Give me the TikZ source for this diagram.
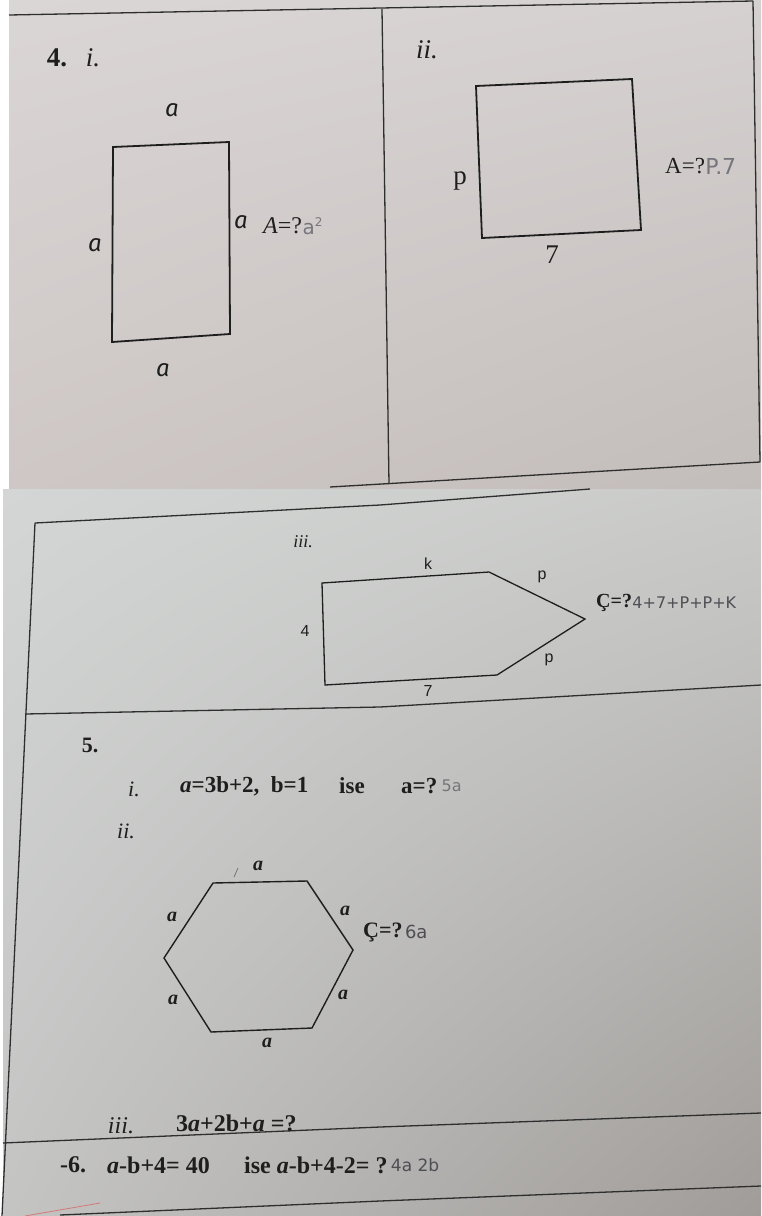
\documentclass[tikz,border=0pt]{standalone}
\usepackage{fontspec}
\setmainfont{Liberation Serif}
\newfontfamily\sansf{Liberation Sans}
\newfontfamily\firaf{Fira Sans}
\newfontfamily\handf{DejaVu Sans}
\usetikzlibrary{shadings}
\newcommand{\myfs}[1]{\fontsize{#1}{#1}\selectfont}
\definecolor{ink}{HTML}{1E1E1E}
\definecolor{rulec}{HTML}{2E2E2E}
\definecolor{hand}{HTML}{76767C}
\definecolor{handdark}{HTML}{4E4E55}
\begin{document}
\begin{tikzpicture}[x=1pt,y=-1pt,
  shapeline/.style={draw=ink,line width=1.8pt,line join=miter},
  ruleline/.style={draw=rulec,line width=1.3pt},
  lbl/.style={inner sep=0pt,text=ink},
  hw/.style={inner sep=0pt,text=hand,font=\handf\myfs{17}},
]
\useasboundingbox (0,0) rectangle (761,1216);
\fill[white] (0,0) rectangle (761,1216);
% top photo
\shade[upper left={rgb,255:red,218;green,214;blue,213},upper right={rgb,255:red,213;green,209;blue,208},
       lower left={rgb,255:red,206;green,199;blue,198},lower right={rgb,255:red,194;green,188;blue,186}]
  (9,0) rectangle (761,489);
% bottom photo
\shade[upper left={rgb,255:red,211;green,214;blue,213},upper right={rgb,255:red,202;green,203;blue,201},
       lower left={rgb,255:red,196;green,196;blue,195},lower right={rgb,255:red,160;green,156;blue,153}]
  (3,489) rectangle (761,1216);

% ---- top photo rules
\coordinate (tl0) at (9,15);
\coordinate (tr0) at (753,1);
\coordinate (dv0) at (382,9);
\coordinate (dv1) at (389,484);
\coordinate (rb1) at (760,462);
\coordinate (bl0) at (330,487);
\draw[ruleline] (tl0) -- (tr0);
\draw[ruleline] (dv0) -- (dv1);
\draw[ruleline] (tr0) -- (rb1);
\draw[ruleline] (bl0) -- (rb1);

% ---- bottom photo rules
\coordinate (b0) at (35,523);
\coordinate (bm) at (380,505);
\coordinate (b1) at (590,489);
\coordinate (bL) at (2,1216);
\draw[ruleline] (b0) -- (bm) -- (b1);
\draw[ruleline] (b0) -- (bL);
\coordinate (r1a) at (25,714);
\coordinate (r1m) at (380,707);
\coordinate (r1b) at (761,685);
\draw[ruleline] (r1a) -- (r1m) -- (r1b);
\coordinate (r2a) at (3,1143);
\coordinate (r2m) at (380,1127);
\coordinate (r2b) at (761,1113);
\draw[ruleline] (r2a) -- (r2m) -- (r2b);
\coordinate (r3a) at (60,1215);
\coordinate (r3m) at (380,1201);
\coordinate (r3b) at (761,1186);
\draw[ruleline] (r3a) -- (r3m) -- (r3b);
\coordinate (red0) at (25,1216);
\coordinate (red1) at (100,1203);
\draw[draw={rgb,255:red,214;green,120;blue,120},line width=0.8pt] (red0) -- (red1);

% ---- 4 i
\node[lbl,font=\bfseries\myfs{27}] (n4) at (57,58) {4.};
\node[lbl,font=\itshape\myfs{27}] (ni) at (93,58) {i.};
\coordinate (A1) at (113,147);
\coordinate (A2) at (229,142);
\coordinate (A3) at (230,334);
\coordinate (A4) at (112,342);
\draw[shapeline] (A1) -- (A2) -- (A3) -- (A4) -- cycle;
\node[lbl,font=\firaf\itshape\myfs{24}] (at) at (172,110) {a};
\node[lbl,font=\firaf\itshape\myfs{24}] (al) at (95,245) {a};
\node[lbl,font=\firaf\itshape\myfs{24}] (ar) at (241,222) {a};
\node[lbl,font=\firaf\itshape\myfs{24}] (ab) at (163,370) {a};
\node[lbl,anchor=west,font=\myfs{24}] (Ai) at (263,226) {\textit{A}=?};
\node[hw,anchor=west,font=\handf\myfs{20}] (Aih) at (Ai.east) {a\raisebox{8pt}{\myfs{12}2}};

% ---- 4 ii
\node[lbl,font=\itshape\myfs{27}] (nii) at (427,50) {ii.};
\coordinate (B1) at (476,86);
\coordinate (B2) at (632,79);
\coordinate (B3) at (641,230);
\coordinate (B4) at (482,238);
\draw[shapeline] (B1) -- (B2) -- (B3) -- (B4) -- cycle;
\node[lbl,font=\myfs{27}] (bp) at (460,181) {p};
\node[lbl,font=\myfs{27}] (b7) at (552,255) {7};
\node[lbl,anchor=west,font=\myfs{23}] (Aii) at (665,166) {A=?};
\node[hw,anchor=west,font=\handf\myfs{22}] (Aiih) at (Aii.east) {P.7};

% ---- 4 iii
\node[lbl,font=\itshape\myfs{18}] (niii) at (303,542) {iii.};
\coordinate (C1) at (322,583);
\coordinate (C2) at (489,572);
\coordinate (C3) at (585,619);
\coordinate (C4) at (497,675);
\coordinate (C5) at (325,685);
\draw[shapeline,line width=1.3pt] (C1) -- (C2) -- (C3) -- (C4) -- (C5) -- cycle;
\node[lbl,font=\sansf\myfs{16}] (ck) at (428,564) {k};
\node[lbl,font=\sansf\myfs{16}] (cp1) at (542,577) {p};
\node[lbl,font=\sansf\myfs{16}] (c4) at (305,631) {4};
\node[lbl,font=\sansf\myfs{16}] (cp2) at (549,660) {p};
\node[lbl,font=\sansf\myfs{16}] (c7) at (428,691) {7};
\node[lbl,anchor=west,font=\bfseries\myfs{20}] (Ciii) at (596,603) {Ç=?};
\node[hw,anchor=west,text=handdark,font=\handf\myfs{16}] (Ciiih) at (Ciii.east) {4+7+P+P+K};

% ---- 5
\node[lbl,font=\bfseries\myfs{22}] (n5) at (90,745) {5.};
\node[lbl,font=\itshape\myfs{22}] (n5i) at (134,789) {i.};
\node[lbl,anchor=west,font=\bfseries\myfs{23}] (e1) at (180,786) {\textit{a}=3b+2,\ \ b=1};
\node[lbl,anchor=west,font=\bfseries\myfs{23}] (e2) at (339,786) {ise};
\node[lbl,anchor=west,font=\bfseries\myfs{23}] (e3) at (401,786) {a=?};
\node[hw,anchor=west,font=\handf\myfs{16}] (e3h) at ([xshift=4pt]e3.east) {5a};
\node[lbl,font=\itshape\myfs{22}] (n5ii) at (126,831) {ii.};
\coordinate (H1) at (213,883);
\coordinate (H2) at (307,881);
\coordinate (H3) at (353,950);
\coordinate (H4) at (312,1028);
\coordinate (H5) at (211,1032);
\coordinate (H6) at (164,958);
\draw[shapeline,line width=1.4pt] (H1) -- (H2) -- (H3) -- (H4) -- (H5) -- (H6) -- cycle;
\node[lbl,font=\bfseries\itshape\myfs{20}] (ha1) at (258,866) {a};
\node[lbl,font=\bfseries\itshape\myfs{20}] (ha2) at (172,917) {a};
\node[lbl,font=\bfseries\itshape\myfs{20}] (ha3) at (345,911) {a};
\node[lbl,font=\bfseries\itshape\myfs{20}] (ha4) at (173,1000) {a};
\node[lbl,font=\bfseries\itshape\myfs{20}] (ha5) at (343,995) {a};
\node[lbl,font=\bfseries\itshape\myfs{20}] (ha6) at (267,1043) {a};
\coordinate (tk0) at (234,877);
\coordinate (tk1) at (238,868);
\draw[hand,line width=0.8pt] (tk0) -- (tk1);
\node[lbl,anchor=west,font=\bfseries\myfs{22}] (Hc) at (363,932) {Ç=?};
\node[hw,anchor=west,text=handdark,font=\handf\myfs{18}] (Hch) at ([xshift=2pt]Hc.east) {6a};

% ---- iii
\node[lbl,font=\itshape\myfs{24}] (n5iii) at (121,1126) {iii.};
\node[lbl,anchor=west,font=\bfseries\myfs{24}] (e4) at (176,1123) {3\textit{a}+2b+\textit{a} =?};

% ---- 6
\node[lbl,anchor=west,font=\bfseries\myfs{24}] (n6) at (60,1165) {-6.};
\node[lbl,anchor=west,font=\bfseries\myfs{24}] (e5) at (107,1165) {\textit{a}-b+4= 40};
\node[lbl,anchor=west,font=\bfseries\myfs{24}] (e6) at (244,1165) {ise \textit{a}-b+4-2= ?};
\node[hw,anchor=west,text=handdark,font=\handf\myfs{17}] (e6h) at ([xshift=3pt]e6.east) {4a 2b};
\end{tikzpicture}
\end{document}
